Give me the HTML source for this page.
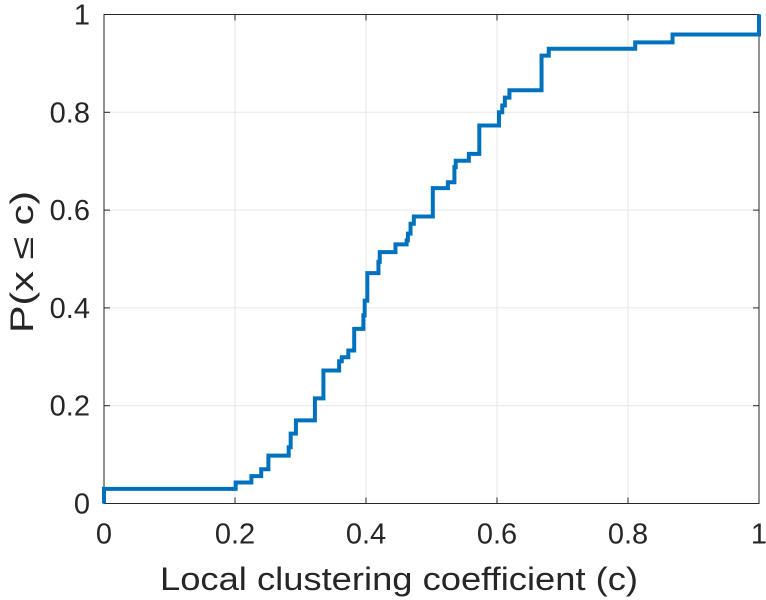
<!DOCTYPE html>
<html><head><meta charset="utf-8"><style>
html,body{margin:0;padding:0;background:#fff;}
svg{display:block;font-family:"Liberation Sans",sans-serif;}
</style></head><body>
<svg id="chart" width="766" height="600" viewBox="0 0 766 600" xmlns="http://www.w3.org/2000/svg">
<g id="grid"></g>
<g id="axes"></g>
<path id="series" fill="none" stroke="#0072BD" stroke-width="4" stroke-linejoin="miter"/>
<text x="399" y="590" text-anchor="middle" font-size="32" textLength="478" lengthAdjust="spacingAndGlyphs" fill="#262626">Local clustering coefficient (c)</text>
<text transform="translate(33,262) rotate(-90)" text-anchor="middle" font-size="32" textLength="142" lengthAdjust="spacingAndGlyphs" fill="#262626">P(x ≤ c)</text>
</svg>
<script>
const stepX = [0, 0, 0.201, 0.225, 0.240, 0.251, 0.282, 0.285, 0.293, 0.322, 0.335, 0.359, 0.363, 0.373, 0.382, 0.396, 0.398, 0.402, 0.419, 0.421, 0.445, 0.462, 0.464, 0.468, 0.473, 0.502, 0.525, 0.535, 0.537, 0.557, 0.573, 0.603, 0.608, 0.612, 0.619, 0.668, 0.679, 0.811, 0.868, 1.0];
const stepY = [0, 0.030, 0.043, 0.056, 0.070, 0.098, 0.115, 0.143, 0.170, 0.215, 0.272, 0.291, 0.299, 0.313, 0.357, 0.385, 0.415, 0.471, 0.494, 0.514, 0.530, 0.538, 0.552, 0.572, 0.587, 0.645, 0.657, 0.688, 0.701, 0.715, 0.773, 0.800, 0.814, 0.830, 0.845, 0.916, 0.930, 0.943, 0.959, 1.0];
const xTicks = [0, 0.2, 0.4, 0.6, 0.8, 1];
const yTicks = [0, 0.2, 0.4, 0.6, 0.8, 1];
const xTickLabels = ["0", "0.2", "0.4", "0.6", "0.8", "1"];
const yTickLabels = ["0", "0.2", "0.4", "0.6", "0.8", "1"];

const L = 104, R = 759, T = 14.5, B = 503.5;
const sx = v => L + v * (R - L);
const sy = v => B - v * (B - T);
const NS = "http://www.w3.org/2000/svg";
const grid = document.getElementById('grid');
const axes = document.getElementById('axes');
function mk(tag, attrs, parent) {
  const e = document.createElementNS(NS, tag);
  for (const k in attrs) e.setAttribute(k, attrs[k]);
  parent.appendChild(e);
  return e;
}
xTicks.forEach((v, i) => {
  const x = sx(v);
  const g = mk('line', {x1: x, x2: x, y1: T, y2: B, stroke: '#e6e6e6', 'stroke-width': 1}, grid);
  
  
  const t1 = mk('line', {x1: x, x2: x, y1: B, y2: B - 6, stroke: '#262626', 'stroke-width': 1}, axes);
  
  
  const t2 = mk('line', {x1: x, x2: x, y1: T, y2: T + 6, stroke: '#262626', 'stroke-width': 1}, axes);
  
  
  const lb = mk('text', {x: x, y: B + 40, 'text-anchor': 'middle', 'font-size': 29, fill: '#262626'}, axes);
  lb.textContent = xTickLabels[i];
  
  
});
yTicks.forEach((v, i) => {
  const y = sy(v);
  const g = mk('line', {x1: L, x2: R, y1: y, y2: y, stroke: '#e6e6e6', 'stroke-width': 1}, grid);
  
  
  const t1 = mk('line', {x1: L, x2: L + 6, y1: y, y2: y, stroke: '#262626', 'stroke-width': 1}, axes);
  
  
  const t2 = mk('line', {x1: R, x2: R - 6, y1: y, y2: y, stroke: '#262626', 'stroke-width': 1}, axes);
  
  
  const lb = mk('text', {x: L - 14, y: y + 10, 'text-anchor': 'end', 'font-size': 29, fill: '#262626'}, axes);
  lb.textContent = yTickLabels[i];
  
  
});
const box = mk('rect', {x: L, y: T, width: R - L, height: B - T, fill: 'none', stroke: '#262626', 'stroke-width': 1}, axes);



let d = 'M' + sx(stepX[0]) + ' ' + sy(stepY[0]);
for (let i = 1; i < stepX.length; i++) {
  d += ' H' + sx(stepX[i]) + ' V' + sy(stepY[i]);
}
document.getElementById('series').setAttribute('d', d);
</script>
</body></html>
